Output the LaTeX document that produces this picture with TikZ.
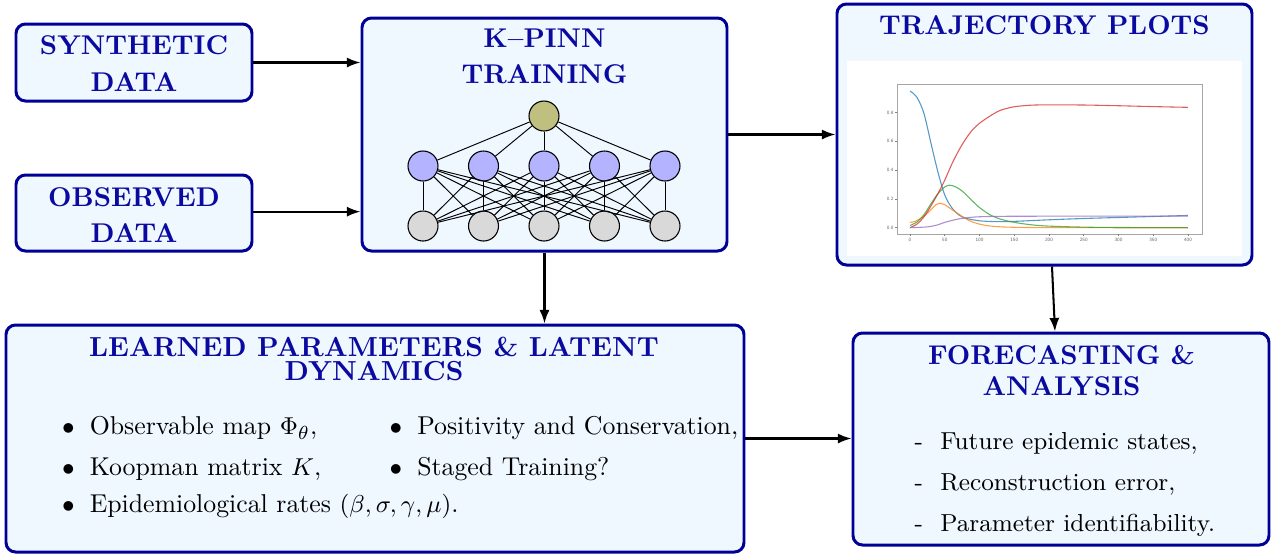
\documentclass[tikz,border=0pt]{standalone}
\usetikzlibrary{arrows.meta,calc}
\definecolor{boxblue}{RGB}{0,0,150}
\definecolor{ttlblue}{RGB}{10,10,160}
\definecolor{boxfill}{RGB}{240,248,255}
\definecolor{nntop}{RGB}{191,191,128}
\definecolor{nnmid}{RGB}{179,179,255}
\definecolor{nnbot}{RGB}{217,217,217}
\definecolor{tabblue}{RGB}{31,119,180}
\definecolor{taborange}{RGB}{255,127,14}
\definecolor{tabgreen}{RGB}{44,160,44}
\definecolor{tabred}{RGB}{214,39,40}
\definecolor{tabpurple}{RGB}{148,103,189}
\begin{document}
\begin{tikzpicture}[x=0.3684pt,y=-0.3684pt,
  blk/.style={draw=boxblue, fill=boxfill, line width=1.1pt, rounded corners=3.5pt, inner sep=0pt, rectangle},
  ttl/.style={text=ttlblue, align=center, anchor=north, inner sep=0pt},
  itm/.style={anchor=base west, inner sep=0pt, font=\fontsize{9.5}{11}\selectfont},
  fitm/.style={anchor=base west, inner sep=0pt, font=\fontsize{9.05}{11}\selectfont},
  arr/.style={line width=0.75pt, -{Latex[length=5pt,width=3.7pt]}},
  neuron/.style={circle, draw=black, line width=0.4pt, minimum size=11.05pt, inner sep=0pt},
  syn/.style={line width=0.35pt},
  curve/.style={line width=0.4pt, opacity=0.75},
  tlab/.style={inner sep=0pt, text=black!60, font=\sffamily\fontsize{1.8}{2}\selectfont},
  tick/.style={line width=0.2pt, draw=black!50},
]
\useasboundingbox (0,0) rectangle (1275,554);

% boxes
\node[blk, minimum width=236*0.3684pt, minimum height=77*0.3684pt] (synth) at (134,62.5) {};
\node[blk, minimum width=236*0.3684pt, minimum height=76*0.3684pt] (obs) at (134,213) {};
\node[blk, minimum width=365*0.3684pt, minimum height=233*0.3684pt] (kpinn) at (544.5,134.5) {};
\node[blk, minimum width=415*0.3684pt, minimum height=261*0.3684pt] (traj) at (1044.5,134.5) {};
\node[blk, minimum width=738*0.3684pt, minimum height=227*0.3684pt] (learned) at (375,438.5) {};
\node[blk, minimum width=416*0.3684pt, minimum height=212*0.3684pt] (fore) at (1061,439) {};

% titles
\node[ttl, font={\bfseries\fontsize{10}{13.5}\selectfont}] (tsyn) at (134,35) {SYNTHETIC\\DATA};
\node[ttl, font={\bfseries\fontsize{10}{13.5}\selectfont}] (tobs) at (134,186.7) {OBSERVED\\DATA};
\node[ttl, font={\bfseries\fontsize{10}{13.3}\selectfont}] (tkp) at (544.5,28.3) {K--PINN\\TRAINING};
\node[ttl, font={\bfseries\fontsize{10}{12}\selectfont}] (ttr) at (1044.5,15) {TRAJECTORY PLOTS};
\node[ttl, font={\bfseries\fontsize{10.15}{8.85}\selectfont}] (tle) at (374,336.7) {LEARNED PARAMETERS \& LATENT\\DYNAMICS};
\node[ttl, font={\bfseries\fontsize{10}{11.2}\selectfont}] (tfo) at (1061.5,345) {FORECASTING \&\\ANALYSIS};

% neural network
\foreach \i/\xx in {1/423,2/483.5,3/544,4/604.5,5/665} {
  \node[neuron, fill=nnmid] (m\i) at (\xx,166) {};
  \node[neuron, fill=nnbot] (b\i) at (\xx,226) {};
}
\node[neuron, fill=nntop] (top) at (544,116) {};
\foreach \i in {1,...,5} {
  \draw[syn] (top) -- (m\i);
  \foreach \j in {1,...,5} { \draw[syn] (m\i) -- (b\j); }
}

% plot
\fill[white] (847,61) rectangle (1242,256);
\draw[line width=0.35pt, draw=black!35] (897,84) rectangle (1202,234);
\foreach \v/\lab in {0/0.0,0.2/0.2,0.4/0.4,0.6/0.6,0.8/0.8} {
  \draw[tick] (897,227.7-144*\v) -- (895.3,227.7-144*\v);
  \node[tlab, anchor=east] (yl\lab) at (894,227.7-144*\v) {\lab};
}
\foreach \t in {0,50,...,400} {
  \draw[tick] (910+0.695*\t,234) -- (910+0.695*\t,235.7);
  \node[tlab, anchor=north] (xl\t) at (910+0.695*\t,237.5) {\t};
}
\begin{scope}[shift={(910,227.7)}, x=0.2560pt, y=53.05pt]
\draw[curve, tabblue] plot[smooth] coordinates {(0,0.95) (10,0.905) (20,0.795) (30,0.59) (40,0.39) (50,0.227) (60,0.14) (70,0.09) (80,0.066) (100,0.048) (125,0.042) (150,0.044) (200,0.055) (250,0.064) (300,0.071) (350,0.078) (400,0.085)};
\draw[curve, taborange] plot[smooth] coordinates {(0,0.037) (8,0.045) (20,0.08) (30,0.125) (38,0.162) (43,0.17) (50,0.16) (60,0.127) (72,0.088) (85,0.05) (96,0.03) (110,0.015) (130,0.006) (160,0.002) (200,0.0005) (300,0) (400,0)};
\draw[curve, tabgreen] plot[smooth] coordinates {(0,0.015) (10,0.04) (20,0.09) (30,0.165) (40,0.235) (50,0.283) (57,0.295) (65,0.285) (75,0.255) (90,0.185) (100,0.14) (115,0.09) (130,0.06) (150,0.037) (175,0.02) (200,0.011) (250,0.004) (300,0.0015) (400,0)};
\draw[curve, tabred] plot[smooth] coordinates {(0,0) (10,0.025) (20,0.075) (30,0.15) (40,0.235) (50,0.33) (60,0.44) (70,0.535) (80,0.615) (90,0.68) (100,0.725) (115,0.775) (130,0.815) (150,0.84) (175,0.851) (200,0.853) (250,0.852) (300,0.847) (350,0.841) (400,0.836)};
\draw[curve, tabpurple] plot[smooth] coordinates {(0,0) (20,0.004) (30,0.009) (40,0.02) (50,0.037) (60,0.05) (70,0.061) (80,0.068) (90,0.073) (100,0.076) (130,0.079) (200,0.08) (300,0.08) (400,0.08)};
\end{scope}

% learned items
\node[itm] (l1) at (61.5,434.3) {$\bullet$\hspace{5.6pt}Observable map $\Phi_\theta$,};
\node[itm] (l2) at (61.5,475) {$\bullet$\hspace{5.6pt}Koopman matrix $K$,};
\node[itm] (l3) at (61.5,512.7) {$\bullet$\hspace{5.6pt}Epidemiological rates $(\beta,\sigma,\gamma,\mu)$.};
\node[itm] (l4) at (389,434.3) {$\bullet$\hspace{5.6pt}Positivity and Conservation,};
\node[itm] (l5) at (389,475) {$\bullet$\hspace{5.6pt}Staged Training?};

% forecasting items
\node[fitm] (f1) at (914.2,449) {-\hspace{6.3pt}Future epidemic states,};
\node[fitm] (f2) at (914.2,490.4) {-\hspace{6.3pt}Reconstruction error,};
\node[fitm] (f3) at (914.2,531) {-\hspace{6.3pt}Parameter identifiability.};

% connectors
\draw[arr] (synth.east) -- (kpinn.west |- synth.east);
\draw[arr] ([yshift=0.5pt]obs.east) -- ([yshift=0.5pt]kpinn.west |- obs.east);
\draw[arr] (kpinn.east) -- (traj.west);
\draw[arr] (kpinn.south) -- (kpinn.south |- learned.north);
\draw[arr] ($(traj.south)+(7.5,0)$) -- ($(fore.north)+(-6,0)$);
\draw[arr] (learned.east) -- (learned.east -| fore.west);
\end{tikzpicture}
\end{document}
